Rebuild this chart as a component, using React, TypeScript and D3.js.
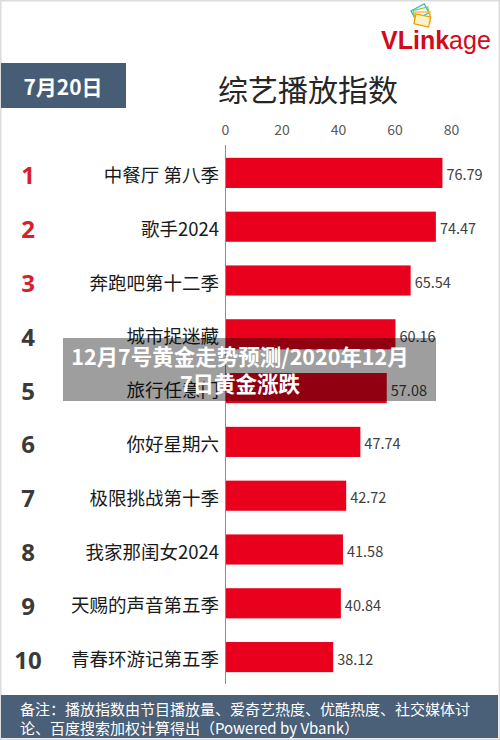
import React from "react";
import * as d3 from "d3";

const ranks = ["1", "2", "3", "4", "5", "6", "7", "8", "9", "10"];
const shows = [
  "中餐厅 第八季",
  "歌手2024",
  "奔跑吧第十二季",
  "城市捉迷藏",
  "旅行任意门",
  "你好星期六",
  "极限挑战第十季",
  "我家那闺女2024",
  "天赐的声音第五季",
  "青春环游记第五季",
];
const values = [76.79, 74.47, 65.54, 60.16, 57.08, 47.74, 42.72, 41.58, 40.84, 38.12];
const ticks = [0, 20, 40, 60, 80];
const title = "综艺播放指数";
const dateLabel = "7月20日";
const bannerLines = ["12月7号黄金走势预测/2020年12月", "7日黄金涨跌"];
const noteLines = [
  "备注：播放指数由节目播放量、爱奇艺热度、优酷热度、社交媒体讨",
  "论、百度搜索加权计算得出（Powered by Vbank）",
];

const W = 500;
const H = 740;
const CJK = '"Noto Sans CJK SC", "Noto Sans", sans-serif';

export default function App() {
  const x = d3.scaleLinear().domain([0, 80]).range([225.5, 451.5]);
  const y = d3
    .scaleBand<string>()
    .domain(ranks)
    .range([146, 684])
    .paddingInner(0.44)
    .paddingOuter(0.22);
  const bw = y.bandwidth();

  return (
    <svg
      width={W}
      height={H}
      style={{ position: "absolute", left: 0, top: 0, background: "#fff" }}
      fontFamily={CJK}
    >
      <rect x={0.5} y={0.5} width={W - 1} height={H - 1} fill="#fff" stroke="#dcdcdc" strokeWidth={2} />

      {/* logo */}
      <g transform="translate(416,14)">
        <rect x={-3} y={-5} width={15} height={10} fill="none" stroke="#3fb6c8" strokeWidth={1.3} transform="rotate(-28)" />
        <rect x={-2} y={-4} width={15} height={10} fill="none" stroke="#8dc63f" strokeWidth={1.3} transform="rotate(-14)" />
        <rect x={-1} y={-2} width={15} height={10} fill="none" stroke="#f7b731" strokeWidth={1.3} />
        <rect x={0} y={0} width={15} height={10} fill="#fff3c4" stroke="#f39c12" strokeWidth={1.3} transform="rotate(12)" />
      </g>
      <text x={381} y={49} fill="#d3091d" fontFamily='"Liberation Sans", Arial, sans-serif' fontSize={25}>
        <tspan fontWeight="bold">VLink</tspan>
        <tspan>age</tspan>
      </text>

      {/* date box */}
      <rect x={1} y={63} width={125} height={45} fill="#465d75" />
      <text x={63} y={86} fill="#fff" fontSize={21} fontWeight="bold" textAnchor="middle" dominantBaseline="central">
        {dateLabel}
      </text>

      {/* title */}
      <text x={308} y={88} fill="#262626" fontSize={30} textAnchor="middle" dominantBaseline="central">
        {title}
      </text>

      {/* ticks */}
      {ticks.map((t) => (
        <text
          key={t}
          x={x(t)}
          y={129}
          fill="#595959"
          fontSize={14}
          textAnchor="middle"
          dominantBaseline="central"
        >
          {t}
        </text>
      ))}

      {/* bars */}
      {values.map((v, i) => {
        const r = ranks[i];
        const yy = y(r)!;
        return (
          <g key={r}>
            <rect x={x(0)} y={yy} width={x(v) - x(0)} height={bw} fill="#e8001c" />
            <text
              x={x(v) + 4}
              y={yy + bw / 2 + 1}
              fill="#404040"
              fontSize={14.5}
              dominantBaseline="central"
            >
              {v.toFixed(2)}
            </text>
            <text
              x={219}
              y={yy + bw / 2 + 1}
              fill="#1a1a1a"
              fontSize={18.5}
              textAnchor="end"
              dominantBaseline="central"
            >
              {shows[i]}
            </text>
            <text
              x={28}
              y={yy + bw / 2 + 2}
              fill={i < 3 ? "#d7202c" : "#3a3a3a"}
              fontSize={24}
              fontWeight="bold"
              fontFamily='"Open Sans", "Noto Sans", sans-serif'
              textAnchor="middle"
              dominantBaseline="central"
            >
              {r}
            </text>
          </g>
        );
      })}

      {/* axis line */}
      <line x1={x(0)} x2={x(0)} y1={145} y2={684} stroke="#8c8c8c" strokeWidth={1} />

      {/* footer */}
      <rect x={1} y={695} width={W - 3} height={43} fill="#4a5f78" />
      {noteLines.map((l, i) => (
        <text key={i} x={20} y={708 + i * 19} fill="#fff" fontSize={15} dominantBaseline="central">
          {l}
        </text>
      ))}

      {/* overlay banner */}
      <rect x={63} y={338} width={373} height={63} fill="rgba(0,0,0,0.38)" />
      {bannerLines.map((l, i) => (
        <text
          key={i}
          x={240}
          y={355 + i * 27}
          fill="#fff"
          fontSize={21.5}
          fontWeight="bold"
          textAnchor="middle"
          dominantBaseline="central"
        >
          {l}
        </text>
      ))}
    </svg>
  );
}
